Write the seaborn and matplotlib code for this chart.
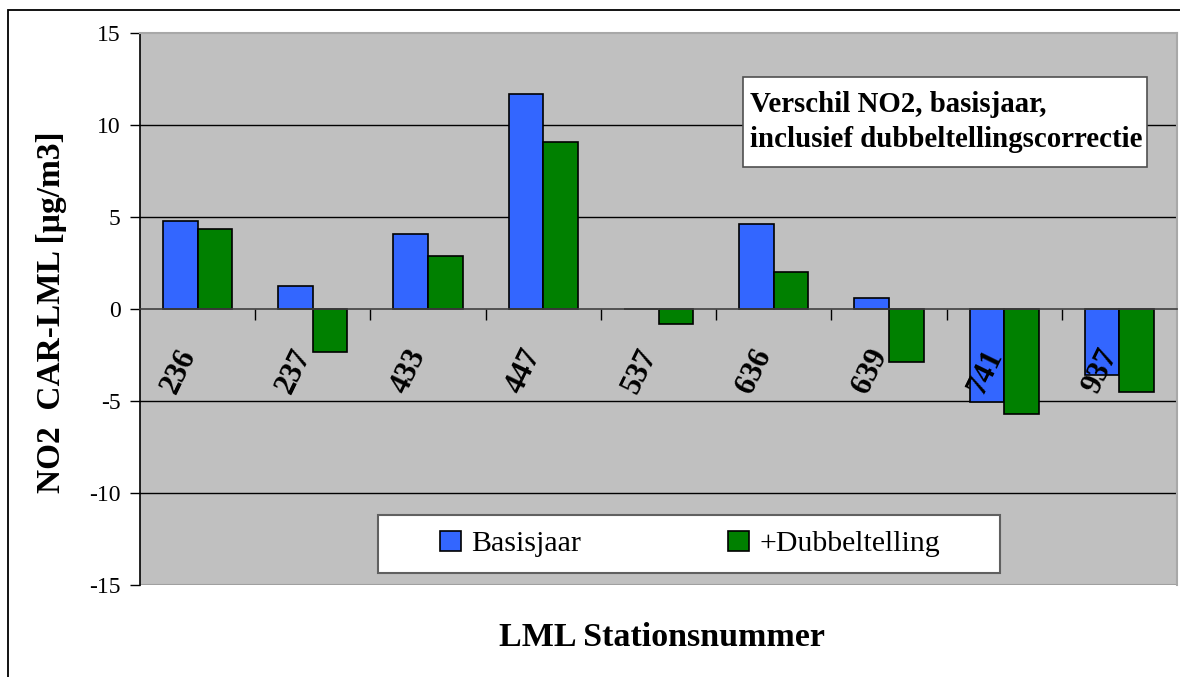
import matplotlib
matplotlib.use('Agg')
import matplotlib.pyplot as plt
import matplotlib.transforms as mtransforms
import seaborn as sns
import pandas as pd
from matplotlib.patches import Rectangle, Patch

stations = ['236', '237', '433', '447', '537', '636', '639', '741', '937']
basisjaar = [4.80, 1.23, 4.10, 11.71, 0.0, 4.62, 0.62, -5.05, -3.60]
dubbeltelling = [4.37, -2.36, 2.88, 9.10, -0.79, 2.01, -2.88, -5.69, -4.53]
series_names = ['Basisjaar', '+Dubbeltelling']
colors = ['#3366FF', '#008000']
yticks = [-15, -10, -5, 0, 5, 10, 15]

sns.set_theme(style='white')
plt.rcParams['font.family'] = ['Liberation Serif', 'DejaVu Serif']
plt.rcParams['text.color'] = 'black'
plt.rcParams['xtick.color'] = 'black'
plt.rcParams['ytick.color'] = 'black'

df = pd.DataFrame({
    'station': stations * 2,
    'value': basisjaar + dubbeltelling,
    'series': [series_names[0]] * len(stations) + [series_names[1]] * len(stations),
})

W, H = 1180, 677
fig = plt.figure(figsize=(W / 100, H / 100), dpi=100)
fig.patch.set_facecolor('white')
ax = fig.add_axes([140 / W, (H - 585) / H, 1037 / W, 552 / H])
ax.set_facecolor('#C0C0C0')

sns.barplot(data=df, x='station', y='value', hue='series', order=stations,
            hue_order=series_names, palette=colors, width=0.6, edgecolor='black',
            linewidth=1.2, saturation=1, ax=ax, legend=False, zorder=2)

ax.set_ylim(-15, 15)
ax.set_xlim(-0.5, len(stations) - 0.5)
ax.set_yticks(yticks)
ax.set_yticklabels([str(v) for v in yticks], fontsize=17)
for y in [-10, -5, 5, 10]:
    ax.axhline(y, color='black', lw=1, zorder=1)
ax.axhline(-15, color='#A0A0A0', lw=1.5, zorder=1)

for s in ['top', 'right']:
    ax.spines[s].set_color('#A8A8A8')
    ax.spines[s].set_linewidth(1.5)
ax.spines['left'].set_color('black')
ax.spines['left'].set_linewidth(1.2)
ax.spines['bottom'].set_position(('data', 0))
ax.spines['bottom'].set_color('#404040')
ax.spines['bottom'].set_linewidth(1.2)
ax.spines['bottom'].set_zorder(3)

ax.tick_params(axis='y', direction='out', length=7, width=1, color='black', pad=7, left=True)
ax.set_xticks([i + 0.5 for i in range(len(stations) - 1)])
ax.set_xticklabels([])
ax.tick_params(axis='x', which='major', direction='out', length=8, width=1, color='black', bottom=True)
ax.set_xlabel('')
ax.set_ylabel('')

# category labels drawn over the bars at the zero line
lab_tr = mtransforms.offset_copy(ax.transData, fig=fig, x=-9, y=-42, units='dots')
for i, s in enumerate(stations):
    ax.text(i, 0, s, transform=lab_tr, rotation=64, rotation_mode='anchor',
            ha='right', va='center', fontsize=22, fontweight='bold', zorder=6)

fig.text(52 / W, 1 - 312 / H, 'NO2  CAR-LML [µg/m3]', rotation=90, ha='center', va='center',
         fontsize=24, fontweight='bold')
fig.text(662 / W, 1 - 637 / H, 'LML Stationsnummer', ha='center', va='center',
         fontsize=24.5, fontweight='bold')

# annotation box
fig.add_artist(Rectangle((743 / W, 1 - 167 / H), (1147 - 743) / W, 90 / H,
                         transform=fig.transFigure, facecolor='white', edgecolor='#505050',
                         lw=1.2, zorder=5))
fig.text(750 / W, 1 - 122 / H, 'Verschil NO2, basisjaar,\ninclusief dubbeltellingscorrectie',
         ha='left', va='center', fontsize=20.8, fontweight='bold', linespacing=1.35,
         zorder=6)

# legend: frame drawn as a rectangle, entries centred inside
ax.add_patch(Rectangle(((378 - 140) / 1037, (585 - 573) / 552), 622 / 1037, 58 / 552,
                       transform=ax.transAxes, facecolor='white', edgecolor='#606060',
                       lw=1.5, zorder=4))
handles = [Patch(facecolor=c, edgecolor='black', lw=1.2) for c in colors]
leg = ax.legend(handles, series_names, loc='center', ncol=2,
                bbox_to_anchor=((690 - 140) / 1037, (585 - 544) / 552),
                fontsize=21.5, frameon=False, handlelength=0.7, handleheight=0.7,
                handletextpad=0.35, columnspacing=4.9, borderpad=0)
leg.set_zorder(5)

fig.add_artist(Rectangle((8 / W, -0.1), 1.2, (1 - 10 / H) + 0.1, transform=fig.transFigure,
                         fill=False, edgecolor='black', lw=1.3))

fig.savefig('out.png', dpi=100)
